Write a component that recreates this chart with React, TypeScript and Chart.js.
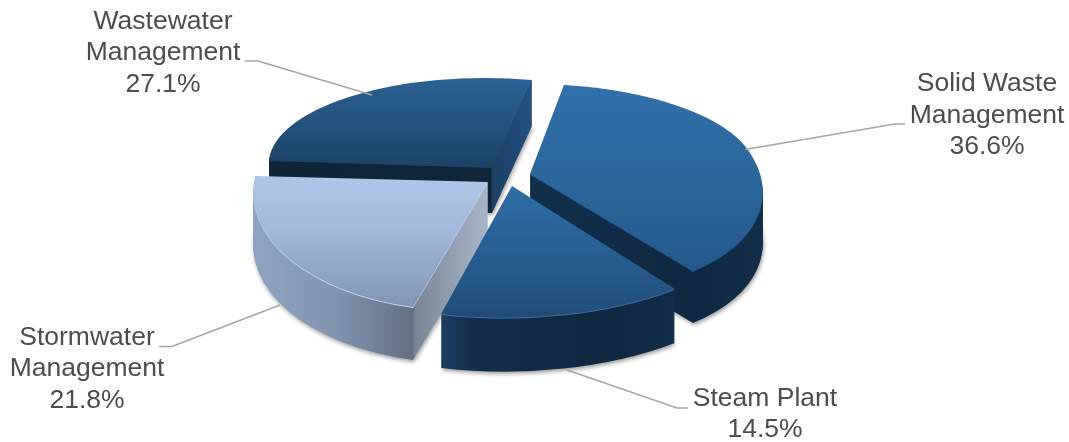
import React, { useEffect, useRef } from "react";
import { Chart, registerables } from "chart.js";

Chart.register(...registerables);

const categories = ["Solid Waste Management", "Steam Plant", "Stormwater Management", "Wastewater Management"];
const shares = [36.6, 14.5, 21.8, 27.1];
const labelLines = [["Solid Waste", "Management"], ["Steam Plant"], ["Stormwater", "Management"], ["Wastewater", "Management"]];

const W = 1069;
const H = 442;
const FIRST_SLICE_DEG = 8;
const TEXT_COLOR = "#4D4D4D";
const LEADER_COLOR = "#A6A6A6";

type Stop = [number, string];
type Slice = {
  apex: [number, number];
  startEdge: [number, number];
  endEdge: [number, number];
  midEdge?: [number, number];
  depth: number;
  top: { from: number; to: number; stops: Stop[] };
  wall: Stop[];
  rim: string;
  labelX: number;
  labelY: number;
  leader: [number, number][];
};

// Oblique view of each exploded wedge: tip position, rim corners relative to the tip,
// extrusion depth and shading. Wall stops are keyed on screen x. A wide wedge may give
// a rim point at its middle angle and is then mapped in two halves.
const slices: Slice[] = [
  {
    apex: [530, 174],
    startEdge: [34, -89],
    endEdge: [163, 97],
    midEdge: [218, -24],
    depth: 52,
    top: { from: 85, to: 270, stops: [[0, "#3270AA"], [0.6, "#2B6498"], [1, "#25588A"]] },
    wall: [[530, "#11304C"], [690, "#0E2840"], [765, "#122E49"]],
    rim: "#1D4A73",
    labelX: 987,
    labelY: 84,
    leader: [[745, 149.5], [895, 124], [905, 124]],
  },
  {
    apex: [512, 186],
    startEdge: [163, 103],
    endEdge: [-71, 128],
    depth: 54,
    top: { from: 186, to: 320, stops: [[0, "#2F6DA6"], [0.6, "#275A8B"], [1, "#204C76"]] },
    wall: [[441, "#1A3F64"], [470, "#122F4B"], [600, "#0F2840"], [675, "#112D47"]],
    rim: "#3A6C9C",
    labelX: 765,
    labelY: 398.5,
    leader: [[567, 370], [677, 408], [688, 408]],
  },
  {
    apex: [488, 182],
    startEdge: [-75, 125],
    endEdge: [-233, -6],
    depth: 53,
    top: { from: 176, to: 307, stops: [[0, "#AEC7E8"], [0.4, "#A3BCDD"], [1, "#8094B1"]] },
    wall: [[252, "#8FA4C1"], [340, "#7F93AE"], [413, "#636F82"], [415, "#7A8698"], [488, "#A9B6C9"]],
    rim: "#C3D6F0",
    labelX: 87,
    labelY: 337.5,
    leader: [[280, 305], [172, 346.5], [159, 346.5]],
  },
  {
    apex: [492, 167],
    startEdge: [-223, -7],
    endEdge: [40, -87],
    depth: 46,
    top: { from: 80, to: 167, stops: [[0, "#2A6194"], [0.55, "#225079"], [1, "#1C4468"]] },
    wall: [[268, "#0E2438"], [491, "#0F2539"], [492, "#1A3F63"], [533, "#245081"]],
    rim: "#1C4468",
    labelX: 163,
    labelY: 21.5,
    leader: [[372, 95], [258, 61], [245, 61]],
  },
];

const drawOrder = [3, 0, 2, 1];
const SEAM_OVERLAP = 0.01;

type Mat = { a: number; b: number; c: number; d: number; e: number; f: number };

// Affine map sending a flat sector of a chart arc onto its wedge in the oblique view.
function wedgeMatrix(arc: any, apex: [number, number], from: number, to: number, startEdge: number[], endEdge: number[]): Mat {
  const us = [Math.cos(from), Math.sin(from)];
  const ue = [Math.cos(to), Math.sin(to)];
  const det = us[0] * ue[1] - ue[0] * us[1];
  const inv = [ue[1] / det, -ue[0] / det, -us[1] / det, us[0] / det];
  const r = arc.outerRadius;
  const a = (startEdge[0] * inv[0] + endEdge[0] * inv[2]) / r;
  const c = (startEdge[0] * inv[1] + endEdge[0] * inv[3]) / r;
  const b = (startEdge[1] * inv[0] + endEdge[1] * inv[2]) / r;
  const d = (startEdge[1] * inv[1] + endEdge[1] * inv[3]) / r;
  return { a, b, c, d, e: apex[0] - (a * arc.x + c * arc.y), f: apex[1] - (b * arc.x + d * arc.y) };
}

// Gradient in the arc's own space whose colour depends only on a screen axis.
function screenGradient(ctx: CanvasRenderingContext2D, m: Mat, axis: "x" | "y", v0: number, v1: number, stops: Stop[]) {
  const g = axis === "x" ? [m.a, m.c] : [m.b, m.d];
  const off = axis === "x" ? m.e : m.f;
  const n = g[0] * g[0] + g[1] * g[1];
  const p0 = [(g[0] * (v0 - off)) / n, (g[1] * (v0 - off)) / n];
  const p1 = [(g[0] * (v1 - off)) / n, (g[1] * (v1 - off)) / n];
  const grad = ctx.createLinearGradient(p0[0], p0[1], p1[0], p1[1]);
  stops.forEach(([t, col]) => grad.addColorStop(t, col));
  return grad;
}

function paintSector(ctx: CanvasRenderingContext2D, arc: any, from: number, to: number, fill: CanvasGradient | string) {
  const layer = Object.assign(Object.create(Object.getPrototypeOf(arc)), arc, {
    startAngle: from,
    endAngle: to,
    circumference: to - from,
    options: { ...arc.options, backgroundColor: fill, borderWidth: 0 },
  });
  layer.draw(ctx);
}

const wedgePlugin = {
  id: "obliqueWedges",
  beforeDatasetDraw(chart: any) {
    const ctx: CanvasRenderingContext2D = chart.ctx;
    const arcs = chart.getDatasetMeta(0).data;
    drawOrder.forEach((i) => {
      const s = slices[i];
      const arc = arcs[i];
      const mid = (arc.startAngle + arc.endAngle) / 2;
      const parts = s.midEdge
        ? [
            { from: arc.startAngle, to: mid, se: s.startEdge, ee: s.midEdge, lead: 0 },
            { from: mid, to: arc.endAngle, se: s.midEdge, ee: s.endEdge, lead: SEAM_OVERLAP },
          ]
        : [{ from: arc.startAngle, to: arc.endAngle, se: s.startEdge, ee: s.endEdge, lead: 0 }];
      const x0 = s.wall[0][0];
      const x1 = s.wall[s.wall.length - 1][0];
      const wallStops: Stop[] = s.wall.map(([x, col]) => [(x - x0) / (x1 - x0), col]);
      for (let dy = s.depth; dy >= 0; dy--) {
        parts.forEach((p) => {
          const m = wedgeMatrix(arc, s.apex, p.from, p.to, p.se, p.ee);
          const fill =
            dy === 0
              ? screenGradient(ctx, m, "y", s.top.from, s.top.to, s.top.stops)
              : dy === 1
                ? s.rim
                : screenGradient(ctx, m, "x", x0, x1, wallStops);
          ctx.save();
          ctx.translate(0, dy);
          ctx.transform(m.a, m.b, m.c, m.d, m.e, m.f);
          if (dy === s.depth) {
            ctx.shadowColor = "rgba(0,0,0,0.4)";
            ctx.shadowBlur = 4;
            ctx.shadowOffsetX = 1;
            ctx.shadowOffsetY = 2;
          }
          paintSector(ctx, arc, p.from - p.lead, p.to, fill);
          ctx.restore();
        });
      }
    });
    return false;
  },
};

const labelPlugin = {
  id: "wedgeLabels",
  afterDraw(chart: any) {
    const ctx: CanvasRenderingContext2D = chart.ctx;
    ctx.save();
    slices.forEach((s, i) => {
      ctx.strokeStyle = LEADER_COLOR;
      ctx.lineWidth = 1.5;
      ctx.beginPath();
      s.leader.forEach(([x, y], k) => (k ? ctx.lineTo(x, y) : ctx.moveTo(x, y)));
      ctx.stroke();
      ctx.fillStyle = TEXT_COLOR;
      ctx.font = '26.5px "Liberation Sans", Arial, sans-serif';
      ctx.textAlign = "center";
      ctx.textBaseline = "middle";
      [...labelLines[i], `${shares[i].toFixed(1)}%`].forEach((line, k) => {
        ctx.fillText(line, s.labelX, s.labelY + k * 31.5);
      });
    });
    ctx.restore();
  },
};

export default function App() {
  const ref = useRef<HTMLCanvasElement>(null);
  useEffect(() => {
    document.body.style.margin = "0";
    document.body.style.background = "#fff";
    const chart = new Chart(ref.current!, {
      type: "pie",
      data: {
        labels: categories,
        datasets: [{ data: shares, backgroundColor: "#2C659B", borderWidth: 0 }],
      },
      options: {
        responsive: false,
        animation: false,
        rotation: FIRST_SLICE_DEG,
        events: [],
        plugins: { legend: { display: false }, tooltip: { enabled: false } },
      },
      plugins: [wedgePlugin, labelPlugin],
    } as any);
    return () => chart.destroy();
  }, []);
  return <canvas ref={ref} width={W} height={H} style={{ display: "block", width: W, height: H }} />;
}
